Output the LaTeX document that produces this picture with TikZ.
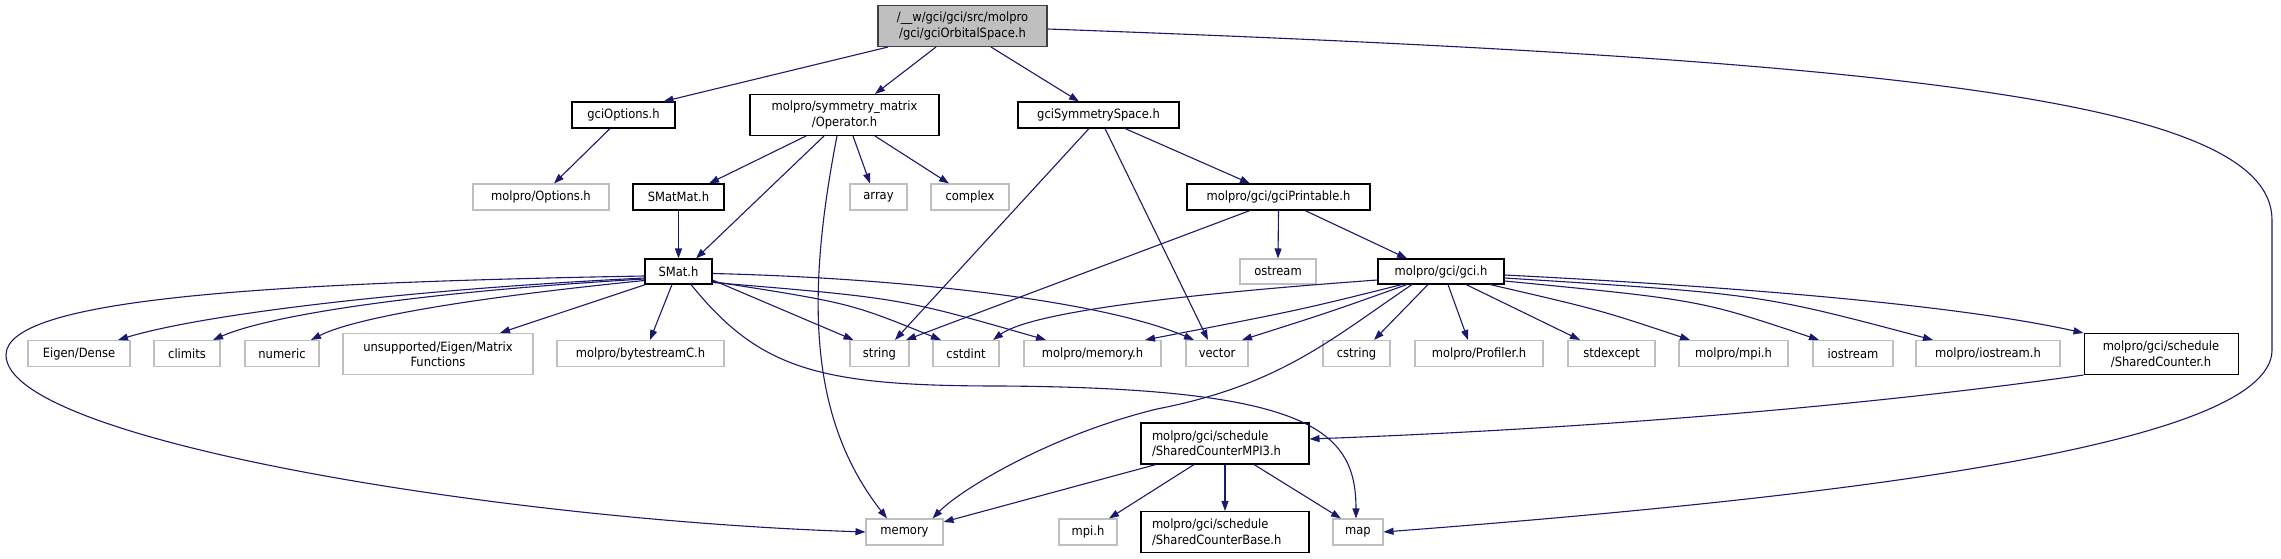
\documentclass[tikz,border=0pt]{standalone}
\usepackage{fontspec}
\setmainfont{DejaVu Sans Condensed}
\usetikzlibrary{arrows.meta}
\definecolor{edgeblue}{HTML}{191970}
\definecolor{boxgray}{HTML}{BFBFBF}
\definecolor{maingray}{HTML}{BFBFBF}
\definecolor{mainborder}{HTML}{404040}
\newcommand{\dxfont}{\fontsize{12.8}{15.5}\selectfont}
\tikzset{
  box/.style={draw=black, line width=1.05pt, fill=white, inner sep=0pt, minimum height=26pt, align=center, font=\dxfont},
  ext/.style={box, draw=boxgray},
  mainbox/.style={box, fill=maingray, draw=mainborder},
  two/.style={minimum height=41pt},
  edge/.style={draw=edgeblue, line width=1.1pt, -{Triangle[length=10pt,width=7pt]}}
}
\begin{document}
\begin{tikzpicture}[x=1pt,y=1pt]
\useasboundingbox[fill=white] (0,0) rectangle (2281,-559);
% row 0
\node[mainbox, two, minimum width=169pt] (main) at (962.5,-26) {/\_\_w/gci/gci/src/molpro\\/gci/gciOrbitalSpace.h};
% row 1
\node[box, minimum width=103pt] (gciopt) at (623.5,-115) {gciOptions.h};
\node[box, two, minimum width=189pt] (op) at (844.5,-115) {molpro/symmetry\_matrix\\/Operator.h};
\node[box, minimum width=161pt] (gsym) at (1098.5,-115) {gciSymmetrySpace.h};
% row 2
\node[ext, minimum width=136pt] (mopt) at (541,-197) {molpro/Options.h};
\node[box, minimum width=91pt] (smatmat) at (678.5,-197) {SMatMat.h};
\node[ext, minimum width=57pt] (array) at (878.5,-197) {array};
\node[ext, minimum width=78pt] (complex) at (970,-197) {complex};
\node[box, minimum width=183pt] (gprint) at (1278.5,-197) {molpro/gci/gciPrintable.h};
% row 3
\node[box, minimum width=67pt, minimum height=25pt] (smat) at (678.5,-271.5) {SMat.h};
\node[ext, minimum width=76pt, minimum height=25pt] (ostream) at (1278,-271.5) {ostream};
\node[box, minimum width=126pt, minimum height=25pt] (gci) at (1441,-271.5) {molpro/gci/gci.h};
% row 4
\node[ext, minimum width=102pt] (eigen) at (79,-353.5) {Eigen/Dense};
\node[ext, minimum width=66pt] (climits) at (187,-353.5) {climits};
\node[ext, minimum width=74pt] (numeric) at (282,-353.5) {numeric};
\node[ext, two, minimum width=190pt] (unsup) at (438,-354) {unsupported/Eigen/Matrix\\Functions};
\node[ext, minimum width=167pt] (bytes) at (640.5,-353.5) {molpro/bytestreamC.h};
\node[ext, minimum width=59pt] (string) at (879.5,-353.5) {string};
\node[ext, minimum width=66pt] (cstdint) at (966,-353.5) {cstdint};
\node[ext, minimum width=137pt] (memh) at (1092.5,-353.5) {molpro/memory.h};
\node[ext, minimum width=62pt] (vector) at (1217,-353.5) {vector};
\node[ext, minimum width=67pt] (cstring) at (1356.5,-353.5) {cstring};
\node[ext, minimum width=128pt] (prof) at (1479,-353.5) {molpro/Profiler.h};
\node[ext, minimum width=87pt] (stdexc) at (1611.5,-353.5) {stdexcept};
\node[ext, minimum width=109pt] (molmpi) at (1733.5,-353.5) {molpro/mpi.h};
\node[ext, minimum width=80pt] (iostr) at (1853,-353.5) {iostream};
\node[ext, minimum width=144pt] (iostrh) at (1988,-353.5) {molpro/iostream.h};
\node[box, two, minimum width=154pt] (sc) at (2161,-354) {molpro/gci/schedule\\/SharedCounter.h};
% row 5
\node[box, two, minimum width=168pt, text width=146pt, align=left] (mpi3) at (1225,-443.5) {molpro/gci/schedule\\/SharedCounterMPI3.h};
% row 6
\node[ext, minimum width=77pt] (memory) at (904.5,-532) {memory};
\node[ext, minimum width=58pt] (mpih) at (1088,-532) {mpi.h};
\node[box, two, minimum width=168pt, text width=146pt, align=left] (scbase) at (1225,-532) {molpro/gci/schedule\\/SharedCounterBase.h};
\node[ext, minimum width=50pt] (map) at (1358,-532) {map};

% edges from main
\draw[edge] ([xshift=-74.5pt]main.south) -- ([xshift=40pt]gciopt.north);
\draw[edge] ([xshift=-26.5pt]main.south) -- ([xshift=30.5pt]op.north);
\draw[edge] ([xshift=28.5pt]main.south) -- ([xshift=-19.5pt]gsym.north);
\draw[edge] ([yshift=-3pt]main.east) .. controls (1900,-60) and (2272,-100) .. (2272,-220) -- (2272,-350) .. controls (2272,-450) and (1800,-500) .. (map.east);
% gciOptions
\draw[edge] ([xshift=-13.5pt]gciopt.south) -- ([xshift=13pt]mopt.north);
% Operator
\draw[edge] ([xshift=-38.5pt]op.south) -- ([xshift=30.5pt]smatmat.north);
\draw[edge] ([xshift=-20.5pt]op.south) -- ([xshift=17.5pt]smat.north);
\draw[edge] ([xshift=8.5pt]op.south) -- ([xshift=-8.5pt]array.north);
\draw[edge] ([xshift=30.5pt]op.south) -- ([xshift=-21pt]complex.north);
\draw[edge] ([xshift=-7.5pt]op.south) .. controls (805,-300) and (810,-420) .. ([xshift=-17.5pt]memory.north);
% SMatMat
\draw[edge] (smatmat.south) -- (smat.north);
% gciSymmetrySpace
\draw[edge] ([xshift=-9.5pt]gsym.south) -- ([xshift=15.5pt]string.north);
\draw[edge] ([xshift=6.5pt]gsym.south) -- ([xshift=-9pt]vector.north);
\draw[edge] ([xshift=26.5pt]gsym.south) -- ([xshift=-28.5pt]gprint.north);
% gciPrintable
\draw[edge] ([xshift=-28.5pt]gprint.south) -- ([xshift=26.5pt]string.north);
\draw[edge] (gprint.south) -- (ostream.north);
\draw[edge] ([xshift=26.5pt]gprint.south) -- ([xshift=-34pt]gci.north);
% SMat left
\draw[edge] ([yshift=-4.5pt]smat.west) .. controls (250,-283) and (6,-300) .. (6,-355) .. controls (6,-440) and (500,-520) .. (memory.west);
\draw[edge] ([yshift=-6.5pt]smat.west) .. controls (400,-290) and (200,-315) .. ([xshift=39pt]eigen.north);
\draw[edge] ([yshift=-7.5pt]smat.west) .. controls (420,-292) and (270,-315) .. ([xshift=26pt]climits.north);
\draw[edge] ([yshift=-9pt]smat.west) .. controls (450,-300) and (350,-320) .. ([xshift=29pt]numeric.north);
\draw[edge] ([xshift=-33pt]smat.south) -- ([xshift=62pt]unsup.north);
\draw[edge] ([xshift=-6.5pt]smat.south) -- ([xshift=9.5pt]bytes.north);
% SMat right
\draw[edge] ([yshift=-8.5pt]smat.east) -- ([xshift=-26pt]string.north);
\draw[edge] ([yshift=-10pt]smat.east) .. controls (850,-303) .. ([xshift=-25pt]cstdint.north);
\draw[edge] ([yshift=-11pt]smat.east) .. controls (900,-298) .. ([xshift=-46.5pt]memh.north);
\draw[edge] ([yshift=-2pt]smat.east) .. controls (900,-278) and (1100,-300) .. ([xshift=-23pt]vector.north);
\draw[edge] ([xshift=12.5pt]smat.south) .. controls (760,-370) and (820,-386) .. (1000,-386) .. controls (1310,-388) and (1356,-430) .. ([xshift=-2pt]map.north);
% gci.h
\draw[edge] ([yshift=-8.5pt]gci.west) .. controls (1100,-300) and (1020,-320) .. ([xshift=27pt]cstdint.north);
\draw[edge] ([xshift=-39pt]gci.south) .. controls (1300,-310) .. ([xshift=52.5pt]memh.north);
\draw[edge] ([xshift=-34pt]gci.south) .. controls (1330,-312) .. ([xshift=25pt]vector.north);
\draw[edge] ([xshift=-29pt]gci.south) .. controls (1330,-340) and (1280,-385) .. (1157,-409) .. controls (1050,-435) and (960,-490) .. ([xshift=28pt]memory.north);
\draw[edge] ([xshift=-13pt]gci.south) -- ([xshift=17.5pt]cstring.north);
\draw[edge] ([xshift=7pt]gci.south) -- ([xshift=-11pt]prof.north);
\draw[edge] ([xshift=25pt]gci.south) -- ([xshift=-31.5pt]stdexc.north);
\draw[edge] ([xshift=49pt]gci.south) .. controls (1600,-310) .. ([xshift=-43.5pt]molmpi.north);
\draw[edge] ([yshift=-9.5pt]gci.east) .. controls (1700,-300) .. ([xshift=-34pt]iostr.north);
\draw[edge] ([yshift=-6.5pt]gci.east) .. controls (1760,-294) .. ([xshift=-55pt]iostrh.north);
\draw[edge] ([yshift=-3.5pt]gci.east) .. controls (1800,-290) and (1980,-310) .. (sc.north west);
% SharedCounter
\draw[edge] (sc.south west) .. controls (1800,-415) and (1500,-432) .. ([yshift=4.5pt]mpi3.east);
% MPI3
\draw[edge] ([xshift=-69pt]mpi3.south) -- ([yshift=10pt]memory.east);
\draw[edge] ([xshift=-31pt]mpi3.south) -- ([xshift=21pt]mpih.north);
\draw[edge] (mpi3.south) -- (scbase.north);
\draw[edge] ([xshift=29pt]mpi3.south) -- ([xshift=-17pt]map.north);
\end{tikzpicture}
\end{document}
